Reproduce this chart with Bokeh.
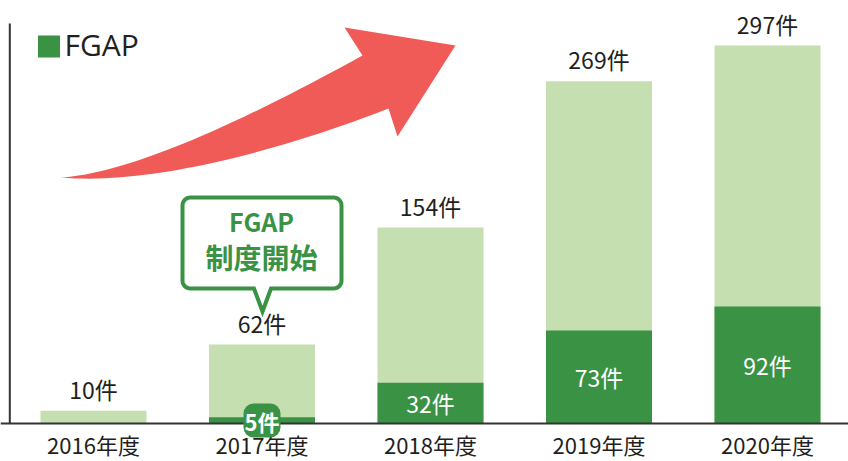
import numpy as np
from bokeh.plotting import figure
from bokeh.models import ColumnDataSource, Range1d, Span, Label
from bokeh.core.properties import value
from bokeh.embed import file_html
from bokeh.resources import INLINE

# ---------------- data ----------------
years = ["2016年度", "2017年度", "2018年度", "2019年度", "2020年度"]
total = [10, 62, 154, 269, 297]
fgap = [0, 5, 32, 73, 92]
unit = "件"
legend_label = "FGAP"
callout_lines = ["FGAP", "制度開始"]

# ---------------- style ----------------
DARK = "#3a9245"
LIGHT = "#c5dfb0"
RED = "#f15b57"
TEXT = "#231f20"
SPINE = "#333333"
JP_NAME = "Noto Sans CJK JP"
JP = value(JP_NAME)

W, H = 848, 461
SX = 168.5           # px per category
SY = 378 / 297       # px per unit
X0 = -93 / SX
X1 = X0 + W / SX
Y0 = -(H - 423) / SY
Y1 = Y0 + H / SY


def dx(ix):
    """picture pixel x -> data x"""
    return X0 + ix / SX


def dy(iy):
    """picture pixel y -> data y"""
    return Y0 + (H - iy) / SY


p = figure(width=W, height=H, x_range=Range1d(X0, X1), y_range=Range1d(Y0, Y1),
           output_backend="svg", toolbar_location=None, min_border=0)
p.axis.visible = False
p.grid.visible = False
p.outline_line_color = None
p.background_fill_color = "white"
p.border_fill_color = "white"

xs = list(range(len(years)))
src = ColumnDataSource(dict(
    x=xs, total=total, fgap=fgap, year=years,
    tlabel=[f"{t}{unit}" for t in total],
))

BW = 106 / SX
p.vbar(x="x", top="total", bottom=0, width=BW, source=src,
       fill_color=LIGHT, line_color=None)
p.vbar(x="x", top="fgap", bottom=0, width=BW, source=src,
       fill_color=DARK, line_color=None)

# axes lines
p.add_layout(Span(location=0, dimension="width", line_color=SPINE, line_width=2))
p.segment(x0=[dx(9.3)], y0=[0], x1=[dx(9.3)], y1=[dy(23)], line_color=SPINE, line_width=2)

# total labels
p.text(x="x", y="total", text="tlabel", source=src, text_align="center",
       text_baseline="middle", y_offset=-22, text_font=JP,
       text_font_size="23px", text_color=TEXT)

# year labels (category axis)
p.text(x="x", y=0, text="year", source=src, text_align="center",
       text_baseline="middle", y_offset=20, text_font=JP,
       text_font_size="22px", text_color=TEXT)

# inner FGAP labels
inner = [i for i, f in enumerate(fgap) if f >= 10]
isrc = ColumnDataSource(dict(
    x=[xs[i] for i in inner],
    y=[fgap[i] / 2 for i in inner],
    t=[f"{fgap[i]}{unit}" for i in inner],
))
p.text(x="x", y="y", text="t", source=isrc, text_align="center",
       text_baseline="middle", text_font=JP, text_font_size="23px",
       text_color="white")

# small FGAP values -> badge
for i, f in enumerate(fgap):
    if 0 < f < 10:
        p.add_layout(Label(x=xs[i], y=dy(420), text=f"{f}{unit}", text_align="center",
                           text_baseline="middle", text_font=JP_NAME,
                           text_font_size="22px", text_color="white",
                           text_font_style="bold",
                           background_fill_color=DARK, border_radius=10,
                           padding=1))

# ---------------- red arrow ----------------
def quad(p0, c, p1, n=40):
    t = np.linspace(0, 1, n)[:, None]
    return (1 - t) ** 2 * np.array(p0) + 2 * t * (1 - t) * np.array(c) + t ** 2 * np.array(p1)


def cubic(p0, c1, c2, p1, n=40):
    t = np.linspace(0, 1, n)[:, None]
    return ((1 - t) ** 3 * np.array(p0) + 3 * (1 - t) ** 2 * t * np.array(c1)
            + 3 * (1 - t) * t ** 2 * np.array(c2) + t ** 3 * np.array(p1))


upper = quad((60, 177), (150, 172), (362, 55))
head = np.array([(344, 27), (455, 45), (397, 136), (388, 108)])
lower = cubic((388, 108), (280, 150), (150, 185), (60, 177))
arrow = np.vstack([upper, head, lower])
p.patch(x=[dx(a) for a in arrow[:, 0]], y=[dy(b) for b in arrow[:, 1]],
        fill_color=RED, line_color=None)

# ---------------- callout ----------------
def callout(l, t, r, b, rad, pl, pr, tipx, tipy, n=10):
    pts = []

    def arc(cx, cy, a0, a1):
        for a in np.linspace(a0, a1, n):
            pts.append((cx + rad * np.cos(a), cy + rad * np.sin(a)))

    arc(l + rad, t + rad, np.pi, 1.5 * np.pi)
    arc(r - rad, t + rad, 1.5 * np.pi, 2 * np.pi)
    arc(r - rad, b - rad, 0, 0.5 * np.pi)
    pts += [(pr, b), (tipx, tipy), (pl, b)]
    arc(l + rad, b - rad, 0.5 * np.pi, np.pi)
    return np.array(pts)


co = callout(182, 197, 341, 288, 8, 253.5, 270.5, 262, 311)
p.patch(x=[dx(a) for a in co[:, 0]], y=[dy(b) for b in co[:, 1]],
        fill_color="white", line_color=DARK, line_width=4, line_join="miter")
p.text(x=[dx(261)], y=[dy(220)], text=[callout_lines[0]], text_align="center",
       text_baseline="middle", text_font=JP, text_font_size="25px",
       text_font_style="bold", text_color=DARK)
p.text(x=[dx(261)], y=[dy(256.5)], text=[callout_lines[1]], text_align="center",
       text_baseline="middle", text_font=JP, text_font_size="28px",
       text_font_style="bold", text_color=DARK)

# ---------------- legend ----------------
p.rect(x=[dx(48.5)], y=[dy(46)], width=22, height=22, width_units="screen",
       height_units="screen", fill_color=DARK, line_color=None)
p.text(x=[dx(64)], y=[dy(44)], text=[legend_label], text_align="left",
       text_baseline="middle", text_font=value("Open Sans"),
       text_font_size="30px", text_color=TEXT)

open("out.html", "w").write(file_html(p, INLINE))
